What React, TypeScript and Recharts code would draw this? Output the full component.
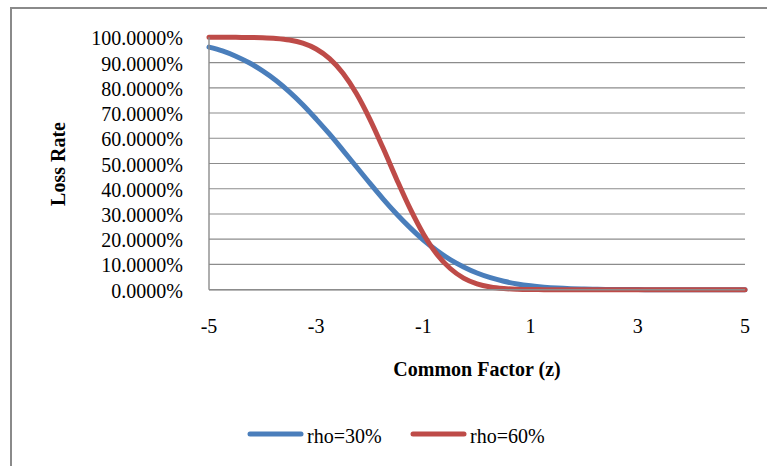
import React from "react";
import { LineChart, Line, XAxis, YAxis, CartesianGrid, Legend, Label } from "recharts";

// Common factor values (z)
const zValues = [
  -5, -4.75, -4.5, -4.25, -4, -3.75, -3.5, -3.25, -3, -2.75, -2.5, -2.25, -2, -1.75, -1.5, -1.25,
  -1, -0.75, -0.5, -0.25, 0, 0.25, 0.5, 0.75, 1, 1.25, 1.5, 1.75, 2, 2.25, 2.5, 2.75, 3, 3.25,
  3.5, 3.75, 4, 4.25, 4.5, 4.75, 5,
];

// Loss rate (%) for asset correlation 30%
const rho30 = [
  96.1, 94.6, 92.5, 89.9, 86.7, 82.9, 78.4, 73.3, 67.6, 61.6, 55.2, 48.7, 42.2, 35.9, 30.0, 24.6,
  19.7, 15.5, 11.9, 9.0, 6.6, 4.75, 3.34, 2.29, 1.54, 1.01, 0.64, 0.4, 0.24, 0.14, 0.08, 0.05,
  0.03, 0.01, 0.01, 0, 0, 0, 0, 0, 0,
];

// Loss rate (%) for asset correlation 60%
const rho60 = [
  100, 100, 99.98, 99.93, 99.82, 99.53, 98.91, 97.66, 95.37, 91.56, 85.75, 77.73, 67.6, 56.0,
  43.8, 32.2, 22.1, 14.1, 8.4, 4.6, 2.32, 1.08, 0.46, 0.18, 0.06, 0.02, 0.01, 0, 0, 0, 0, 0, 0,
  0, 0, 0, 0, 0, 0, 0, 0,
];

const xTicks = [-5, -3, -1, 1, 3, 5];
const yTicks = [0, 10, 20, 30, 40, 50, 60, 70, 80, 90, 100];

const seriesNames = ["rho=30%", "rho=60%"];
const BLUE = "#4A7EBB";
const RED = "#BE4B48";
const GRID = "#8c8c8c";
const FONT = "'Liberation Serif', 'Times New Roman', serif";

const rows = zValues.map((z, i) => ({ z, a: rho30[i], b: rho60[i] }));

const XTick = (props: any) => {
  const { x, y, payload } = props;
  return (
    <text x={x} y={y} textAnchor="middle" fontFamily={FONT} fontSize={20} fill="#000">
      {payload.value}
    </text>
  );
};

const YTick = (props: any) => {
  const { x, y, payload } = props;
  return (
    <text x={x} y={y + 8} textAnchor="end" fontFamily={FONT} fontSize={20} fill="#000">
      {`${Number(payload.value).toFixed(4)}%`}
    </text>
  );
};

const LegendContent = (props: any) => {
  const items = props.payload || [];
  return (
    <svg width={767} height={40} style={{ display: "block" }}>
      {items.map((it: any, i: number) => {
        const x0 = 250 + i * 163;
        return (
          <g key={i}>
            <line
              x1={x0}
              y1={14}
              x2={x0 + 51}
              y2={14}
              stroke={it.color}
              strokeWidth={5}
              strokeLinecap="round"
            />
            <text x={x0 + 57} y={23} fontFamily={FONT} fontSize={20} fill="#000">
              {it.value}
            </text>
          </g>
        );
      })}
    </svg>
  );
};

export default function App() {
  return (
    <div
      style={{
        position: "fixed",
        left: 0,
        top: 0,
        width: 767,
        height: 466,
        overflow: "hidden",
        background: "#fff",
      }}
    >
      <div
        style={{
          position: "absolute",
          left: 10,
          top: 7,
          width: 800,
          height: 500,
          borderLeft: "2px solid #8a8a8a",
          borderTop: "2px solid #8a8a8a",
        }}
      />
      <div style={{ position: "absolute", left: 0, top: 0 }}>
        <LineChart
          width={767}
          height={466}
          data={rows}
          margin={{ top: 37.3, right: 22, bottom: 0, left: 0 }}
        >
          <CartesianGrid vertical={false} stroke={GRID} strokeWidth={1.2} />
          <XAxis
            type="number"
            dataKey="z"
            domain={[-5, 5]}
            ticks={xTicks}
            height={176.3}
            tickLine={false}
            tickSize={6}
            tickMargin={37}
            axisLine={{ stroke: GRID, strokeWidth: 1.4 }}
            tick={<XTick />}
            interval={0}
          >
            <Label
              content={(p: any) => {
                const vb = p.viewBox;
                return (
                  <text
                    x={vb.x + vb.width / 2}
                    y={vb.y + 86}
                    textAnchor="middle"
                    fontFamily={FONT}
                    fontSize={20}
                    fontWeight="bold"
                    fill="#000"
                  >
                    Common Factor (z)
                  </text>
                );
              }}
            />
          </XAxis>
          <YAxis
            type="number"
            domain={[0, 100]}
            ticks={yTicks}
            width={209}
            tickLine={false}
            tickSize={6}
            tickMargin={20}
            axisLine={{ stroke: GRID, strokeWidth: 1.4 }}
            tick={<YTick />}
            interval={0}
          >
            <Label
              content={(p: any) => {
                const vb = p.viewBox;
                const cx = vb.x + 64.5;
                const cy = vb.y + vb.height / 2 + 0.5;
                return (
                  <text
                    x={cx}
                    y={cy}
                    transform={`rotate(-90, ${cx}, ${cy})`}
                    textAnchor="middle"
                    fontFamily={FONT}
                    fontSize={20}
                    fontWeight="bold"
                    fill="#000"
                  >
                    Loss Rate
                  </text>
                );
              }}
            />
          </YAxis>
          <Legend
            layout="horizontal"
            verticalAlign="middle"
            align="center"
            content={<LegendContent />}
            wrapperStyle={{ position: "absolute", top: 420, left: 0, width: 767, height: 40 }}
          />
          <Line
            type="monotone"
            dataKey="a"
            name={seriesNames[0]}
            stroke={BLUE}
            strokeWidth={5}
            strokeLinecap="round"
            dot={false}
            activeDot={false}
            isAnimationActive={false}
          />
          <Line
            type="monotone"
            dataKey="b"
            name={seriesNames[1]}
            stroke={RED}
            strokeWidth={5}
            strokeLinecap="round"
            dot={false}
            activeDot={false}
            isAnimationActive={false}
          />
        </LineChart>
      </div>
    </div>
  );
}
